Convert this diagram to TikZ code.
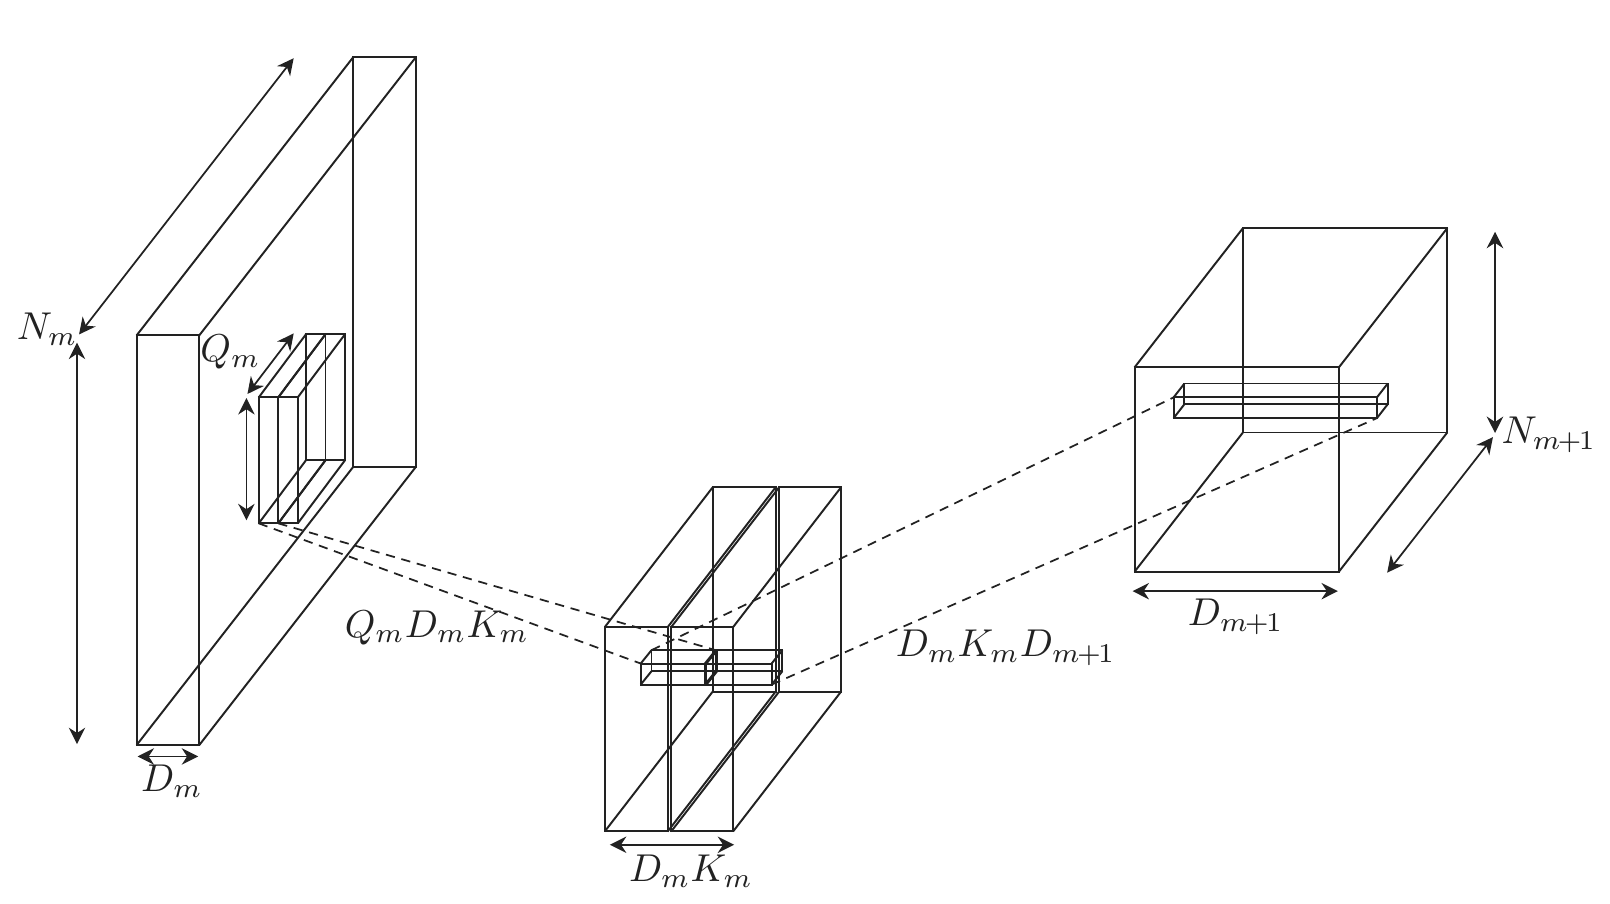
\documentclass[tikz,border=0pt]{standalone}
\usetikzlibrary{arrows.meta}
\definecolor{ink}{HTML}{222222}
\newcommand{\mpo}{m\mkern-1.5mu+\mkern-1.5mu1}
\tikzset{
  edge/.style={draw=ink,line width=0.95pt,line join=miter},
  dim/.style={draw=ink,line width=0.85pt,{Stealth[length=8pt,width=8pt,inset=2.6pt]}-{Stealth[length=8pt,width=8pt,inset=2.6pt]}},
  link/.style={draw=ink,line width=0.85pt,dash pattern=on 4.5pt off 3.3pt},
  lab/.style={text=ink,inner sep=0pt,scale=1.89}
}
% #1 x0, #2 x1, #3 y0, #4 y1 front; #5 dx, #6 dy offset to the back face
\newcommand{\cuboid}[6]{%
  \draw[edge] (#1,#3) rectangle (#2,#4);
  \draw[edge] (#1+#5,#3-#6) rectangle (#2+#5,#4-#6);
  \draw[edge] (#1,#3) -- (#1+#5,#3-#6);
  \draw[edge] (#2,#3) -- (#2+#5,#3-#6);
  \draw[edge] (#1,#4) -- (#1+#5,#4-#6);
  \draw[edge] (#2,#4) -- (#2+#5,#4-#6);
}
\begin{document}
\begin{tikzpicture}[x=0.5pt,y=-0.5pt]
\useasboundingbox (0,-0.7) rectangle (1568,879.7);
% large blocks
\cuboid{133}{194}{326}{725}{211}{271}
\cuboid{589}{650.3}{610}{809}{105}{136}
\cuboid{653.7}{714}{610}{809}{105}{136}
\cuboid{1105}{1304}{357}{556}{105.5}{135.5}
% small slices
\cuboid{252}{271}{386.3}{509}{46}{61.5}
\cuboid{271}{290}{386.3}{509}{46}{61.5}
\cuboid{624}{686.5}{645.5}{666}{10.5}{13}
\cuboid{688}{751.5}{645.5}{666}{10.5}{13}
\cuboid{1143}{1341}{386.3}{406.5}{10.5}{13.5}
% connection points
\coordinate (s1a) at (252,509);
\coordinate (s1b) at (271,509);
\coordinate (m1a) at (624,645.5);
\coordinate (m1b) at (697,632.5);
\coordinate (m2a) at (634.5,632.5);
\coordinate (m2b) at (751.5,666);
\coordinate (r1a) at (1143,386.3);
\coordinate (r1b) at (1341,406.5);
\draw[link] (s1a) -- (m1a);
\draw[link] (s1b) -- (m1b);
\draw[link] (m2a) -- (r1a);
\draw[link] (m2b) -- (r1b);
% dimension arrows
\coordinate (a1) at (77,325);   \coordinate (a2) at (286,56);
\coordinate (b1) at (75,333);   \coordinate (b2) at (75,724);
\coordinate (c1) at (134,736);  \coordinate (c2) at (193,736);
\coordinate (d1) at (241,383);  \coordinate (d2) at (286,324);
\coordinate (e1) at (240,387);  \coordinate (e2) at (240,506);
\coordinate (f1) at (594,822);  \coordinate (f2) at (715,822);
\coordinate (g1) at (1103,575); \coordinate (g2) at (1303,575);
\coordinate (h1) at (1456,225); \coordinate (h2) at (1456,421);
\coordinate (i1) at (1351,557); \coordinate (i2) at (1454,425);
\draw[dim] (a1) -- (a2);
\draw[dim] (b1) -- (b2);
\draw[dim] (c1) -- (c2);
\draw[dim] (d1) -- (d2);
\draw[dim] (e1) -- (e2);
\draw[dim] (f1) -- (f2);
\draw[dim] (g1) -- (g2);
\draw[dim] (h1) -- (h2);
\draw[dim] (i1) -- (i2);
% labels
\node[lab] (nm) at (46,320) {$N_m$};
\node[lab] (qm) at (224.5,342) {$Q_m$};
\node[lab] (dm) at (167.5,760) {$D_m$};
\node[lab] (qdk) at (425.5,610.5) {$Q_mD_mK_m$};
\node[lab] (dk) at (673,848) {$D_mK_m$};
\node[lab] (dkd) at (979.5,630.5) {$D_mK_mD_{\mpo}$};
\node[lab] (dp) at (1203.5,600) {$D_{\mpo}$};
\node[lab] (np) at (1508.5,422.5) {$N_{\mpo}$};
\end{tikzpicture}
\end{document}
